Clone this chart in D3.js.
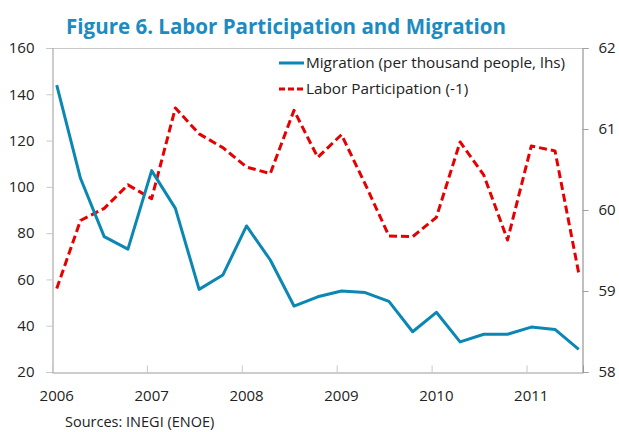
<!DOCTYPE html>
<html>
<head>
<meta charset="utf-8">
<script src="https://cdn.jsdelivr.net/npm/d3@7"></script>
<style>
  html, body { margin: 0; padding: 0; background: #fff; }
  text { font-family: "Open Sans", "Noto Sans", sans-serif; }
</style>
</head>
<body>
<svg id="chart" width="619" height="432"></svg>
<script>
// ---- data ----
const quarters = [
  "2006Q1","2006Q2","2006Q3","2006Q4",
  "2007Q1","2007Q2","2007Q3","2007Q4",
  "2008Q1","2008Q2","2008Q3","2008Q4",
  "2009Q1","2009Q2","2009Q3","2009Q4",
  "2010Q1","2010Q2","2010Q3","2010Q4",
  "2011Q1","2011Q2","2011Q3"
];
const migration = [144, 103.7, 78.5, 73.1, 107, 90.7, 55.7, 61.9, 83.1, 68.4, 48.5, 52.5,
                   55, 54.3, 50.5, 37.4, 45.8, 33, 36.3, 36.3, 39.4, 38.4, 29.8];
const laborParticipation = [59.03, 59.87, 60.02, 60.31, 60.14, 61.26, 60.94, 60.77, 60.53, 60.45, 61.23, 60.65,
                            60.93, 60.32, 59.68, 59.67, 59.91, 60.84, 60.43, 59.63, 60.79, 60.73, 59.22];
const yearTicks = [2006, 2007, 2008, 2009, 2010, 2011];
const leftTicks = [20, 40, 60, 80, 100, 120, 140, 160];
const rightTicks = [58, 59, 60, 61, 62];
const seriesNames = ["Migration (per thousand people, lhs)", "Labor Participation (-1)"];
const titleText = "Figure 6. Labor Participation and Migration";
const sourceText = "Sources: INEGI (ENOE)";

// quarter label -> fractional year (points sit slightly after start of quarter)
const qTime = q => +q.slice(0, 4) + (+q.slice(5) - 1) * 0.25 + 0.05;

const svg = d3.select("#chart");
const L = 52, R = 583, T = 48, B = 372;

const x = d3.scaleLinear().domain([2006, 2011.595]).range([L, R]);
const yL = d3.scaleLinear().domain([20, 160]).range([B, T]);
const yR = d3.scaleLinear().domain([58, 62]).range([B, T]);

const axisColor = "#9a9a9a";
const tickColor = "#c8c8c8";
const textColor = "#222";

// Title
svg.append("text")
  .attr("x", 66).attr("y", 34)
  .attr("fill", "#1b8bc1")
  .attr("font-weight", "bold")
  .attr("font-size", 22)
  .attr("textLength", 440).attr("lengthAdjust", "spacingAndGlyphs")
  .text(titleText);

// Frame top line
svg.append("line")
  .attr("x1", L).attr("x2", R).attr("y1", T + 0.5).attr("y2", T + 0.5)
  .attr("stroke", "#c8c8c8").attr("stroke-width", 1);

// Left axis
const gL = svg.append("g").attr("transform", `translate(${L + 0.5},0)`)
  .call(d3.axisLeft(yL).tickValues(leftTicks).tickSize(6).tickPadding(12).tickFormat(d3.format("d")));
gL.select(".domain").attr("stroke", axisColor);
gL.selectAll(".tick line").attr("stroke", tickColor);
gL.selectAll(".tick text").attr("font-size", 15).attr("fill", textColor)
  .attr("font-family", "Open Sans, sans-serif");

// Right axis
const gR = svg.append("g").attr("transform", `translate(${R - 0.5},0)`)
  .call(d3.axisRight(yR).tickValues(rightTicks).tickSize(6).tickPadding(10).tickFormat(d3.format("d")));
gR.select(".domain").attr("stroke", "#808080");
gR.selectAll(".tick line").attr("stroke", "#a0a0a0");
gR.selectAll(".tick text").attr("font-size", 15).attr("fill", textColor)
  .attr("font-family", "Open Sans, sans-serif");

// Bottom axis (ticks point inward)
const gB = svg.append("g").attr("transform", `translate(0,${B + 0.5})`)
  .call(d3.axisBottom(x).tickValues(yearTicks).tickSize(-7).tickPadding(0).tickFormat(d3.format("d")));
gB.select(".domain").attr("stroke", axisColor);
gB.selectAll(".tick line").attr("stroke", tickColor);
gB.selectAll(".tick text").remove();
svg.append("g").selectAll("text").data(yearTicks).join("text")
  .attr("x", d => x(d + 0.05)).attr("y", 401)
  .attr("text-anchor", "middle")
  .attr("font-size", 15).attr("fill", textColor)
  .text(d => d);

// Lines
const migLine = d3.line().x((d, i) => x(qTime(quarters[i]))).y(d => yL(d));
const labLine = d3.line().x((d, i) => x(qTime(quarters[i]))).y(d => yR(d));

svg.append("path").datum(laborParticipation)
  .attr("d", labLine)
  .attr("fill", "none").attr("stroke", "#e60000").attr("stroke-width", 3)
  .attr("stroke-dasharray", "8,4").attr("stroke-linejoin", "round");

svg.append("path").datum(migration)
  .attr("d", migLine)
  .attr("fill", "none").attr("stroke", "#0a87b3").attr("stroke-width", 3)
  .attr("stroke-linejoin", "round");

// Legend
const legend = svg.append("g");
const legItems = [
  { name: seriesNames[0], color: "#0a87b3", dash: null, y: 63 },
  { name: seriesNames[1], color: "#e60000", dash: "6,3", y: 89 }
];
legItems.forEach(it => {
  legend.append("line")
    .attr("x1", 279).attr("x2", 304).attr("y1", it.y).attr("y2", it.y)
    .attr("stroke", it.color).attr("stroke-width", 3)
    .attr("stroke-dasharray", it.dash);
  legend.append("text")
    .attr("x", 306).attr("y", it.y + 5)
    .attr("font-size", 15.3).attr("fill", textColor)
    .text(it.name);
});

// Source
svg.append("text")
  .attr("x", 65).attr("y", 427)
  .attr("font-size", 14.5).attr("fill", textColor)
  .text(sourceText);
</script>
</body>
</html>
